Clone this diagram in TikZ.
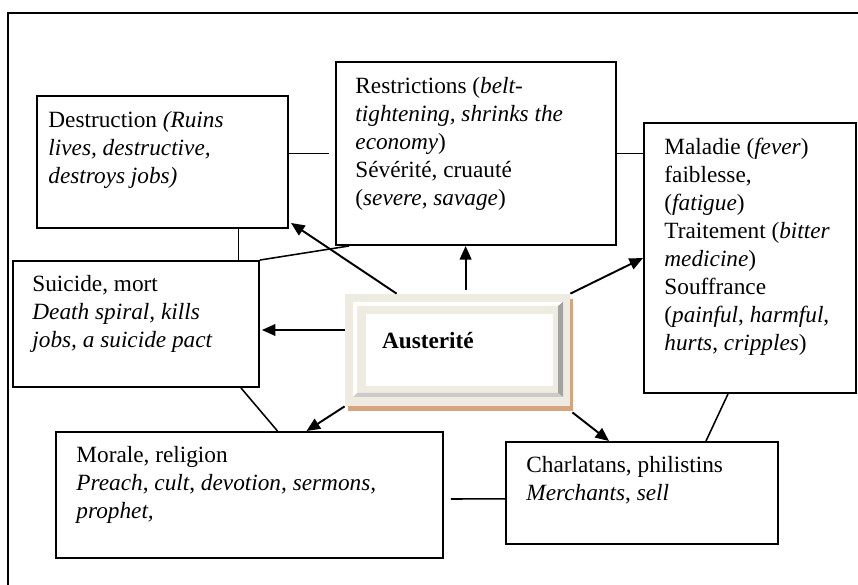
\documentclass[tikz,border=0pt]{standalone}
\usepackage{fontspec}
\setmainfont{Liberation Serif}
\usetikzlibrary{arrows.meta,fit}
\definecolor{bevelbeige}{HTML}{EEEBE0}
\definecolor{shadowbrown}{HTML}{D6A47E}
\definecolor{bevelgrey}{HTML}{A3A3A3}
\definecolor{bevellight}{HTML}{CBCBCB}
\tikzset{
  box/.style={draw, line width=1pt, inner sep=0pt},
  txt/.style={anchor=north west, inner sep=0pt, align=left, font=\fontsize{12pt}{14.4pt}\selectfont},
  link/.style={line width=0.8pt},
  arr/.style={line width=1pt, -{Triangle[length=7pt,width=6pt]}}
}
\begin{document}
\begin{tikzpicture}[x=0.5155pt,y=-0.5155pt]
\useasboundingbox (0,0) rectangle (858,585);
\draw[line width=1.5pt] (858,13) -- (8,13) -- (8,585);
% boxes round the centre
\node[box, fit={(37,96) (288,228)}] (destr) {};
\node[box, fit={(336,62) (616,245)}] (restr) {};
\node[box, fit={(644,123) (856,393)}] (malad) {};
\node[box, fit={(13,261) (259,387)}] (suic) {};
\node[box, fit={(56,432) (443,558)}] (moral) {};
\node[box, fit={(506,442) (778,544)}] (charl) {};
\node[txt] (destrtxt) at ([shift={(12,16)}]destr.north west)
  {Destruction \textit{(Ruins}\\ \textit{lives, destructive,}\\ \textit{destroys jobs)}};
\node[txt] (restrtxt) at ([shift={(20,16)}]restr.north west)
  {Restrictions (\textit{belt-}\\ \textit{tightening, shrinks the}\\ \textit{economy})\\ Sévérité, cruauté\\ (\textit{severe, savage})};
\node[txt] (maladtxt) at ([shift={(21,16)}]malad.north west)
  {Maladie (\textit{fever})\\ faiblesse,\\ (\textit{fatigue})\\ Traitement (\textit{bitter}\\ \textit{medicine})\\ Souffrance\\ (\textit{painful}, \textit{harmful},\\ \textit{hurts}, \textit{cripples})};
\node[txt] (suictxt) at ([shift={(20,15)}]suic.north west)
  {Suicide, mort\\ \textit{Death spiral, kills}\\ \textit{jobs, a suicide pact}};
\node[txt] (moraltxt) at ([shift={(21,15)}]moral.north west)
  {Morale, religion\\ \textit{Preach}, \textit{cult}, \textit{devotion, sermons,}\\ \textit{prophet,}};
\node[txt] (charltxt) at ([shift={(21,15)}]charl.north west)
  {Charlatans, philistins\\ \textit{Merchants}, \textit{sell}};
% bevelled centre
\fill[shadowbrown] (348,299) rectangle (573,411);
\node[fill=bevelbeige, inner sep=0pt, fit={(345,294) (570,406)}] (aust) {};
\fill[white] (353,302) -- (562,302) -- (558,306) -- (357,306) -- cycle;
\fill[white] (353,302) -- (357,306) -- (357,393) -- (353,397) -- cycle;
\fill[bevelgrey] (558,306) -- (563,302) -- (563,397) -- (558,393) -- cycle;
\fill[bevellight] (357,393) -- (558,393) -- (563,397) -- (353,397) -- cycle;
\fill[white] (366,314) rectangle (553,386);
\node[txt, font=\fontsize{12pt}{14.4pt}\selectfont\bfseries] (austtxt) at ([shift={(37,38)}]aust.north west) {Austerité};
% plain links
\draw[link] (destr.east |- restr.west) -- ([xshift=-3pt]restr.west);
\coordinate (dsouth) at ([shift={(76,0)}]destr.south);
\draw[link] (dsouth) -- (dsouth |- suic.north);
\draw[link] (suic.north east) -- ([shift={(14,0)}]restr.south west);
\draw[link] (restr.east) -- (malad.west |- restr.east);
\draw[link] ([shift={(105,0)}]suic.south) -- ([shift={(28,0)}]moral.north);
\draw[link] ([shift={(7,4)}]moral.east) -- ([yshift=-2pt]moral.east -| charl.west);
\draw[link] ([shift={(-22,0)}]malad.south) -- ([shift={(64,0)}]charl.north);
% arrows out of the centre
\draw[arr] ([shift={(52,0)}]aust.north west) -- ([shift={(2,-6)}]destr.south east);
\coordinate (anorth) at ([shift={(121,-4)}]aust.north west);
\draw[arr] (anorth) -- (anorth |- restr.south);
\draw[arr] (aust.north east) -- (malad.west);
\coordinate (awest) at ([shift={(0,-20)}]aust.west);
\draw[arr] (awest) -- ([xshift=1pt]awest -| suic.east);
\draw[arr] (aust.south west) -- ([shift={(57,0)}]moral.north);
\draw[arr] ([shift={(2,6)}]aust.south east) -- ([shift={(104,0)}]charl.north west);
\end{tikzpicture}
\end{document}
